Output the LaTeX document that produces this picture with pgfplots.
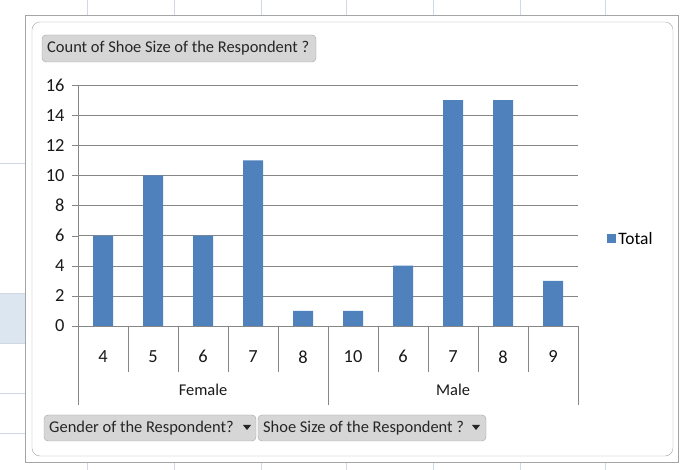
\documentclass[border=0pt]{standalone}
\usepackage{fontspec}
\setmainfont{Carlito}
\usepackage{pgfplots}
\pgfplotsset{compat=1.18}
\definecolor{barblue}{HTML}{4F81BD}
\definecolor{gridgray}{HTML}{868686}
\definecolor{framegray}{HTML}{A5A5A5}
\definecolor{btnfill}{HTML}{D6D6D6}
\definecolor{sheetline}{HTML}{D0D7E5}
\definecolor{cellblue}{HTML}{DCE6F1}
\newcommand{\cf}{\fontsize{16.5}{19}\selectfont}
\newcommand{\tf}{\fontsize{18.5}{21}\selectfont}
\begin{document}
\begin{tikzpicture}[x=1bp,y=1bp]
\useasboundingbox (0,0) rectangle (682,470);
\fill[white] (0,0) rectangle (682,470);
% spreadsheet background
\foreach \x in {87,174,261,346,433,520,605} {
  \draw[sheetline] (\x,470) -- (\x,455);
  \draw[sheetline] (\x,0) -- (\x,8);
}
\fill[cellblue] (0,470-343) rectangle (25,470-293);
\foreach \y in {163,293,343,393,433} \draw[sheetline] (0,470-\y) -- (25,470-\y);
% chart frame
\draw[framegray] (25,470-15) rectangle (678,470-462);
\draw[framegray,rounded corners=8] (32,470-22) rectangle (673,470-456);
% pivot buttons
\draw[framegray, fill=btnfill, rounded corners=4] (42,470-35) rectangle (316,470-62);
\node[anchor=west, font=\cf, text=black!85, inner sep=0] at (47,470-48.5) {Count of Shoe Size of the Respondent ?};
\draw[framegray, fill=btnfill, rounded corners=4] (44,470-415) rectangle (256,470-441);
\node[anchor=west, font=\cf, text=black!85, inner sep=0] at (49,470-428) {Gender of the Respondent?};
\fill[black!85] (243,470-425) -- (251,470-425) -- (247,470-430) -- cycle;
\draw[framegray, fill=btnfill, rounded corners=4] (258,470-415) rectangle (486,470-441);
\node[anchor=west, font=\cf, text=black!85, inner sep=0] at (263,470-428) {Shoe Size of the Respondent ?};
\fill[black!85] (472,470-425) -- (480,470-425) -- (476,470-430) -- cycle;
\begin{axis}[
  at={(78bp,144bp)}, anchor=south west,
  width=500bp, height=241bp, scale only axis,
  xmin=-0.5, xmax=9.5, ymin=0, ymax=16,
  ytick={0,2,...,16},
  xtick={0,...,9},
  xticklabels={4,5,6,7,8,10,6,7,8,9},
  ymajorgrids, grid style={gridgray},
  axis lines*=left,
  axis line style={gridgray},
  tick align=outside, major tick length=6bp,
  ytick style={gridgray},
  xtick style={draw=none},
  tick label style={font=\tf, text=black!90},
  xticklabel style={yshift=-15bp},
  yticklabel style={xshift=-4bp},
  /pgf/number format/assume math mode=true,
  ybar, bar width=20bp,
  clip=false,
  legend style={at={(1.106,0.361)}, anchor=center, draw=none, fill=none, font=\fontsize{17.5}{20}\selectfont},
  legend image code/.code={\fill[barblue] (0bp,-4.5bp) rectangle (9bp,4.5bp);},
]
\addplot[fill=barblue, draw=none] coordinates {(0,6) (1,10) (2,6) (3,11) (4,1) (5,1) (6,4) (7,15) (8,15) (9,3)};
\addlegendentry{Total}
\pgfplotsinvokeforeach{0.5,1.5,2.5,3.5,5.5,6.5,7.5,8.5}{
  \draw[gridgray] (axis cs:#1,0) -- ++(0bp,-46bp);
}
\pgfplotsinvokeforeach{-0.5,4.5,9.5}{
  \draw[gridgray] (axis cs:#1,0) -- ++(0bp,-79bp);
}
\node[font=\cf, text=black!90] at (axis cs:2,0) [yshift=-64bp] {Female};
\node[font=\cf, text=black!90] at (axis cs:7,0) [yshift=-64bp] {Male};
\end{axis}
\end{tikzpicture}
\end{document}
